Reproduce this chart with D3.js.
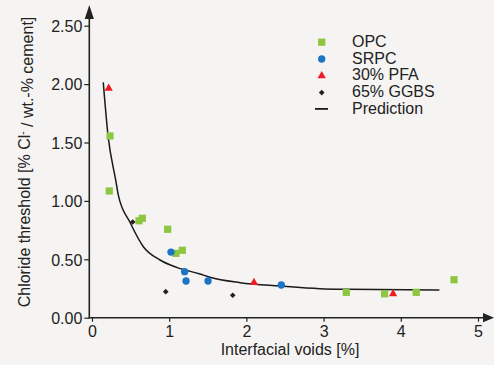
<!DOCTYPE html>
<html>
<head>
<meta charset="utf-8">
<script src="https://cdn.jsdelivr.net/npm/d3@7"></script>
<style>
  html, body { margin: 0; padding: 0; background: #f5f4f2; }
  svg { display: block; }
  text { font-family: "Liberation Sans", Arial, sans-serif; fill: #222; }
</style>
</head>
<body>
<svg id="chart" width="494" height="365"></svg>
<script>
// ---- data ----
const opc = [
  [0.233, 1.556], [0.224, 1.085], [0.609, 0.83], [0.652, 0.851], [0.98, 0.757],
  [1.088, 0.551], [1.17, 0.577], [3.294, 0.217], [3.79, 0.205], [4.20, 0.217], [4.69, 0.325]
];
const srpc = [
  [1.023, 0.562], [1.20, 0.394], [1.218, 0.314], [1.503, 0.314], [2.452, 0.28]
];
const pfa = [
  [0.216, 1.964], [2.098, 0.30], [3.90, 0.205]
];
const ggbs = [
  [0.527, 0.819], [0.955, 0.223], [1.823, 0.192]
];
const prediction = [
  [0.146, 2.015], [0.207, 1.563], [0.307, 1.178], [0.341, 1.049], [0.492, 0.817],
  [0.665, 0.608], [0.881, 0.494], [1.097, 0.431], [1.399, 0.374], [1.528, 0.346],
  [1.917, 0.30], [2.435, 0.271], [2.953, 0.248], [3.3, 0.243], [4.5, 0.237]
];
const xTicks = [0, 1, 2, 3, 4, 5];
const yTicks = [0, 0.5, 1.0, 1.5, 2.0, 2.5];
const legendLabels = ["OPC", "SRPC", "30% PFA", "65% GGBS", "Prediction"];

// ---- drawing ----
const svg = d3.select("#chart");
const ink = "#222";
const colors = { opc: "#8dc641", srpc: "#1c74c4", pfa: "#ec1c24", ggbs: "#231f20" };

const x = d3.scaleLinear().domain([0, 5]).range([92, 478]);
const y = d3.scaleLinear().domain([0, 2.5]).range([317.7, 25.7]);
const axisX = 89.3;

// y axis ticks + labels
const yAxis = d3.axisLeft(y).tickValues(yTicks).tickFormat(d3.format(".2f")).tickSize(5).tickPadding(2);
const gy = svg.append("g").attr("transform", `translate(${axisX},0)`).call(yAxis);
gy.select(".domain").remove();
gy.selectAll("line").attr("stroke", ink).attr("stroke-width", 1.2);
gy.selectAll("text").style("font-size", "16px").attr("fill", ink).attr("dy", "0.36em");

// x axis ticks + labels
const xAxis = d3.axisBottom(x).tickValues(xTicks).tickFormat(d3.format("d")).tickSize(4).tickPadding(4);
const gx = svg.append("g").attr("transform", `translate(0,${y(0)})`).call(xAxis);
gx.select(".domain").remove();
gx.selectAll("line").attr("stroke", ink).attr("stroke-width", 1.2);
gx.selectAll("text").style("font-size", "16px").attr("fill", ink);

// axis lines with arrowheads
svg.append("line").attr("x1", axisX).attr("x2", axisX).attr("y1", y(0) + 0.6).attr("y2", 16)
  .attr("stroke", ink).attr("stroke-width", 1.6);
svg.append("path").attr("d", `M${axisX},5 L${axisX - 4.6},19 L${axisX + 4.6},19 Z`).attr("fill", ink);
svg.append("line").attr("x1", axisX - 0.6).attr("x2", 486).attr("y1", y(0)).attr("y2", y(0))
  .attr("stroke", ink).attr("stroke-width", 1.6);
svg.append("path").attr("d", `M494,${y(0)} L483,${y(0) - 4.6} L483,${y(0) + 4.6} Z`).attr("fill", ink);

// axis titles
svg.append("text").attr("x", 290).attr("y", 355).attr("text-anchor", "middle")
  .style("font-size", "16px").text("Interfacial voids [%]");
const yl = svg.append("text").attr("transform", "translate(30,162) rotate(-90)")
  .attr("text-anchor", "middle").style("font-size", "16px");
yl.append("tspan").text("Chloride threshold [% Cl");
yl.append("tspan").attr("dy", "-0.45em").style("font-size", "10px").text("-");
yl.append("tspan").attr("dy", "0.45em").text(" / wt.-% cement]");

// prediction curve
const line = d3.line().x(d => x(d[0])).y(d => y(d[1])).curve(d3.curveMonotoneX);
svg.append("path").datum(prediction).attr("d", line).attr("fill", "none")
  .attr("stroke", "#1a1a1a").attr("stroke-width", 1.5);

// markers
const sym = {
  opc: d3.symbol().type(d3.symbolSquare).size(52),
  srpc: d3.symbol().type(d3.symbolCircle).size(42),
  pfa: d3.symbol().type(d3.symbolTriangle).size(30),
  ggbs: d3.symbol().type(d3.symbolSquare).size(16)
};
const rot = { opc: 0, srpc: 0, pfa: 0, ggbs: 45 };
function drawSeries(data, key) {
  svg.append("g").selectAll("path").data(data).join("path")
    .attr("transform", d => `translate(${x(d[0])},${y(d[1])}) rotate(${rot[key]})`)
    .attr("d", sym[key]).attr("fill", colors[key]);
}
drawSeries(opc, "opc");
drawSeries(srpc, "srpc");
drawSeries(pfa, "pfa");
drawSeries(ggbs, "ggbs");

// legend
const keys = ["opc", "srpc", "pfa", "ggbs", "pred"];
const lg = svg.append("g");
legendLabels.forEach((lab, i) => {
  const base = 46.7 + i * 16.8;
  const my = base - 4.5;
  if (keys[i] === "pred") {
    lg.append("line").attr("x1", 315).attr("x2", 328).attr("y1", base - 5).attr("y2", base - 5)
      .attr("stroke", "#1a1a1a").attr("stroke-width", 1.8);
  } else {
    lg.append("path").attr("transform", `translate(321.7,${my}) rotate(${rot[keys[i]]})`)
      .attr("d", sym[keys[i]]).attr("fill", colors[keys[i]]);
  }
  lg.append("text").attr("x", 352).attr("y", base).style("font-size", "16px").text(lab);
});
</script>
</body>
</html>
